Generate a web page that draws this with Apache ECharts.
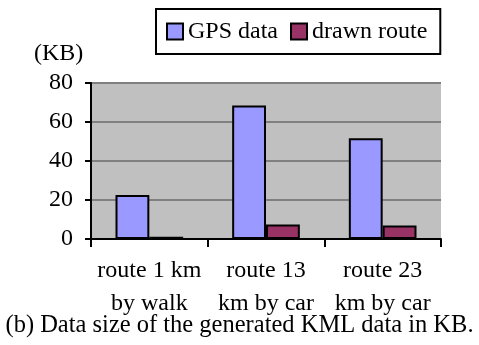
<!DOCTYPE html>
<html><head><meta charset="utf-8">
<script src="https://cdn.jsdelivr.net/npm/echarts@6/dist/echarts.min.js"></script>
<style>html,body{margin:0;padding:0;background:#fff}#c{width:479px;height:345px}</style>
</head><body><div id="c"></div>
<script>
const categories = ['route 1 km\nby walk', 'route 13\nkm by car', 'route 23\nkm by car'];
const gpsData = [22.6, 68.5, 51.7];
const drawnRoute = [1.2, 7.4, 6.9];
const yTicks = [0, 20, 40, 60, 80];
const FONT = "'Liberation Serif','Times New Roman',serif";
const FS = 24;
const chart = echarts.init(document.getElementById('c'), null, {renderer: 'canvas'});
chart.setOption({
  animation: false,
  backgroundColor: '#fff',
  textStyle: {fontFamily: FONT, color: '#000'},
  title: [
    {text: '(KB)', left: 34, top: 42, textStyle: {fontFamily: FONT, fontSize: FS, fontWeight: 'normal', color: '#000'}, padding: 0},
    {text: '(b) Data size of the generated KML data in KB.', left: 'center', top: 313, textStyle: {fontFamily: FONT, fontSize: 24.5, fontWeight: 'normal', color: '#000', lineHeight: 25}, padding: 0}
  ],
  legend: {
    left: 156, top: 9,
    padding: [10, 13, 10, 10],
    borderColor: '#000', borderWidth: 2,
    itemWidth: 16, itemHeight: 16, itemGap: 12,
    icon: 'rect',
    textStyle: {fontFamily: FONT, fontSize: FS, color: '#000', lineHeight: 25},
    data: ['GPS data', 'drawn route']
  },
  grid: {left: 91, right: 38, top: 83, bottom: 106, show: true, backgroundColor: '#c0c0c0', borderWidth: 0},
  xAxis: {
    type: 'category', data: categories,
    axisLine: {lineStyle: {color: '#000', width: 2}},
    axisTick: {show: true, length: 8, lineStyle: {color: '#000', width: 2}},
    axisLabel: {interval: 0, fontFamily: FONT, fontSize: FS, color: '#000', lineHeight: 33, margin: 15}
  },
  yAxis: {
    type: 'value', min: 0, max: 80, interval: 20,
    axisLine: {show: true, lineStyle: {color: '#000', width: 2}},
    axisTick: {show: true, length: 6, lineStyle: {color: '#000', width: 2}},
    axisLabel: {fontFamily: FONT, fontSize: FS, color: '#000', margin: 18,
      formatter: v => yTicks.includes(v) ? String(v) : ''},
    splitLine: {show: true, lineStyle: {color: '#808080', width: 2}}
  },
  series: [
    {name: 'GPS data', type: 'bar', data: gpsData, barGap: '0%', barCategoryGap: '42%',
      itemStyle: {color: '#9999ff', borderColor: '#000', borderWidth: 2}},
    {name: 'drawn route', type: 'bar', data: drawnRoute,
      itemStyle: {color: '#993366', borderColor: '#000', borderWidth: 2}}
  ]
});
</script></body></html>
